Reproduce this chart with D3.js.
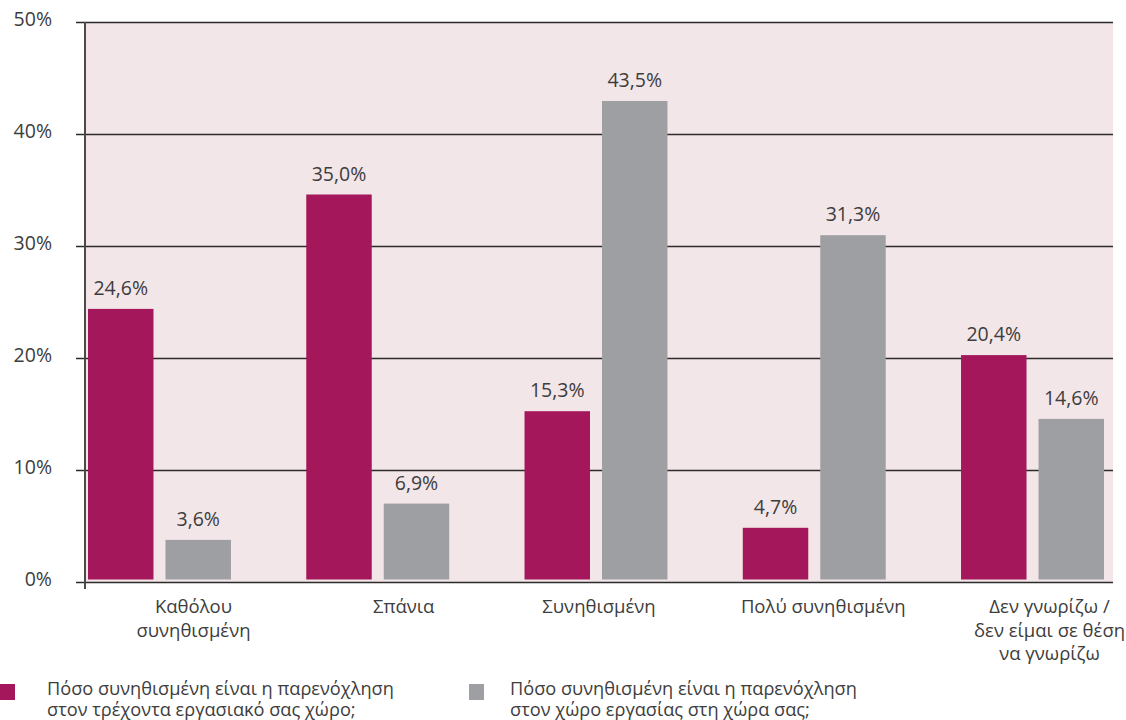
<!DOCTYPE html>
<html>
<head>
<meta charset="utf-8">
<script src="https://cdn.jsdelivr.net/npm/d3@7"></script>
<style>
  html, body { margin: 0; padding: 0; background: #ffffff; }
  svg text { font-family: "Open Sans", "Noto Sans", sans-serif; font-weight: 400; fill: #3d3d3d; }
</style>
</head>
<body>
<svg id="chart" width="1126" height="720"></svg>
<script>
// ---- data ----
const categories = [
  ["Καθόλου", "συνηθισμένη"],
  ["Σπάνια"],
  ["Συνηθισμένη"],
  ["Πολύ συνηθισμένη"],
  ["Δεν γνωρίζω /", "δεν είμαι σε θέση", "να γνωρίζω"]
];
const seriesNames = [
  ["Πόσο συνηθισμένη είναι η παρενόχληση", "στον τρέχοντα εργασιακό σας χώρο;"],
  ["Πόσο συνηθισμένη είναι η παρενόχληση", "στον χώρο εργασίας στη χώρα σας;"]
];
const currentWorkplace = [24.6, 35.0, 15.3, 4.7, 20.4];
const countryWorkplace = [3.6, 6.9, 43.5, 31.3, 14.6];
const yTicks = [0, 10, 20, 30, 40, 50];
const valueLabels = [
  ["24,6%", "35,0%", "15,3%", "4,7%", "20,4%"],
  ["3,6%", "6,9%", "43,5%", "31,3%", "14,6%"]
];

// ---- layout ----
const colors = ["#a4175a", "#9e9fa3"];
const svg = d3.select("#chart");
const plotLeft = 85, plotRight = 1113, plotTop = 22, plotBottom = 582;
const labelDx = [34, 26, 3, 9, 17];

// axis/grid scale
const y = d3.scaleLinear().domain([0, 50]).range([plotBottom, plotTop]);
// bars in the reference are drawn on a slightly compressed scale sitting just above the baseline
const yBar = d3.scaleLinear().domain([0, 50]).range([579.5, 579.5 - 550]);
const x0 = d3.scaleBand().domain(d3.range(categories.length))
  .range([88, 1104]).paddingInner(0.345).paddingOuter(0).align(0);
const x1 = d3.scaleBand().domain([0, 1]).range([0, x0.bandwidth()]).paddingInner(0.155).paddingOuter(0);

// background
svg.append("rect").attr("x", plotLeft).attr("y", plotTop)
  .attr("width", plotRight - plotLeft).attr("height", plotBottom - plotTop)
  .attr("fill", "#f3e6e9");

// gridlines + tick labels
const yAxis = d3.axisLeft(y).tickValues(yTicks).tickSize(-(plotRight - plotLeft)).tickFormat(d => d + "%");
const gy = svg.append("g").attr("transform", `translate(${plotLeft},0)`).call(yAxis);
gy.select(".domain").remove();
gy.selectAll(".tick line").attr("stroke", "#2b2b2b").attr("stroke-width", 1.3)
  .attr("x1", -9).attr("x2", plotRight - plotLeft);
gy.selectAll(".tick text").attr("x", -33).attr("dy", "0.2em")
  .attr("font-size", 19.5).attr("fill", "#3d3d3d").attr("text-anchor", "end")
  .style("font-family", "'Open Sans', sans-serif");

// bars
const series = [currentWorkplace, countryWorkplace];
series.forEach((vals, s) => {
  svg.append("g").selectAll("rect").data(vals).join("rect")
    .attr("x", (d, i) => x0(i) + x1(s))
    .attr("y", d => yBar(d))
    .attr("width", x1.bandwidth())
    .attr("height", d => yBar(0) - yBar(d))
    .attr("fill", colors[s]);
  svg.append("g").selectAll("text").data(vals).join("text")
    .attr("x", (d, i) => x0(i) + x1(s) + x1.bandwidth() / 2)
    .attr("y", d => yBar(d) - 14)
    .attr("text-anchor", "middle")
    .attr("font-size", 19.5)
    .text((d, i) => valueLabels[s][i]);
});

// vertical axis line
svg.append("line").attr("x1", plotLeft).attr("x2", plotLeft)
  .attr("y1", plotTop).attr("y2", 589)
  .attr("stroke", "#4a4a4a").attr("stroke-width", 2);

// category labels
categories.forEach((lines, i) => {
  const cx = x0(i) + x0.bandwidth() / 2 + labelDx[i];
  const t = svg.append("text").attr("text-anchor", "middle").attr("font-size", 18.5);
  lines.forEach((ln, j) => {
    t.append("tspan").attr("x", cx).attr("y", 613 + j * 23.5).text(ln);
  });
});

// legend
const legendX = [0, 469];
seriesNames.forEach((lines, s) => {
  svg.append("rect").attr("x", legendX[s]).attr("y", 684)
    .attr("width", 15).attr("height", 16).attr("fill", colors[s]);
  const t = svg.append("text").attr("font-size", 18.2);
  lines.forEach((ln, j) => {
    t.append("tspan").attr("x", legendX[s] + (s === 0 ? 47 : 41)).attr("y", 695 + j * 20.5).text(ln);
  });
});
</script>
</body>
</html>
